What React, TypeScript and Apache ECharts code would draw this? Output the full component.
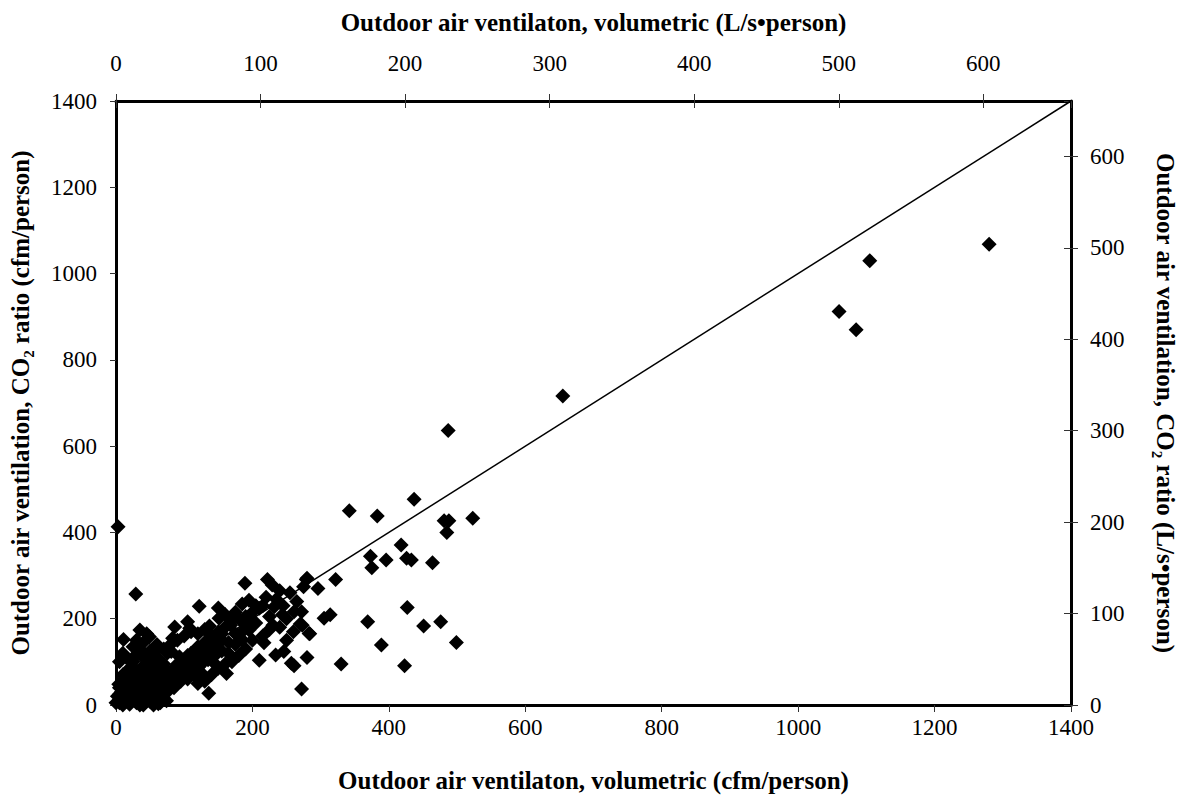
import React, { useEffect, useRef } from "react";
import * as echarts from "echarts";

// Axis ranges (cfm/person) and unit conversion to L/s per person
const cfmMin = 0;
const cfmMax = 1400;
const cfmStep = 200;
const lsPerCfm = 0.4719;
const lsStep = 100;

// Axis titles
const bottomTitle = "Outdoor air ventilaton, volumetric (cfm/person)";
const topTitle = "Outdoor air ventilaton, volumetric (L/s\u2022person)";
const leftTitle = "Outdoor air ventilation, CO\u2082 ratio (cfm/person)";
const rightTitle = "Outdoor air ventilation, CO\u2082 ratio (L/s\u2022person)";

// 1:1 reference line
const oneToOne: [number, number][] = [
  [0, 0],
  [1400, 1400],
];

// [volumetric cfm/person, CO2 ratio cfm/person]
const highPoints: [number, number][] = [
  [1280, 1068], [1105, 1030], [1060, 912], [1085, 870], [655, 716], [487, 636],
];

const midPoints: [number, number][] = [
  [342, 450], [383, 438], [437, 477], [481, 427], [488, 427], [485, 400], [523, 433],
  [418, 371], [373, 345], [396, 336], [375, 318], [426, 340], [433, 336], [464, 330],
  [369, 193], [427, 226], [451, 183], [476, 193], [389, 139], [499, 145], [330, 95],
  [423, 91], [272, 37], [322, 291], [314, 209], [305, 201],
];

const lowPoints: [number, number][] = [
  [280, 294], [275, 274], [296, 270], [279, 291], [261, 216], [272, 216], [270, 188],
  [284, 165], [280, 110], [261, 91], [189, 282], [222, 291], [229, 278], [185, 234],
  [195, 243], [210, 224], [232, 228], [244, 209], [273, 185], [283, 166], [217, 144],
  [234, 116], [246, 124], [257, 97], [210, 104], [195, 174], [185, 151], [178, 162],
  [168, 185], [162, 73], [136, 27],
  [3, 413], [29, 257], [122, 229], [105, 193], [151, 201], [137, 183], [108, 178],
  [86, 181], [83, 155], [11, 152], [35, 174], [49, 158], [39, 143], [59, 127], [29, 116],
  [44, 112], [81, 124], [93, 112], [112, 112], [127, 120], [100, 85], [122, 89],
  [142, 100], [151, 131],
];

const clusterPoints: [number, number][] = [
  [0, 5], [2, 20], [4, 48], [6, 12], [8, 30], [10, 0], [12, 40], [14, 8], [16, 55],
  [18, 22], [20, 2], [22, 35], [24, 15], [26, 60], [28, 45], [30, 5], [32, 28], [34, 70],
  [36, 12], [38, 50], [40, 0], [42, 38], [44, 80], [46, 20], [48, 62], [50, 8], [52, 45],
  [54, 30], [56, 88], [58, 14], [60, 55], [62, 3], [64, 70], [66, 25], [68, 42], [70, 95],
  [72, 60], [74, 10], [76, 78], [78, 35], [80, 50],
  [85, 70], [90, 95], [95, 80], [100, 105], [105, 90], [110, 120], [115, 100], [120, 135],
  [125, 110], [130, 145], [135, 125], [140, 160], [145, 140], [150, 170], [155, 150],
  [160, 180], [165, 145], [170, 195], [175, 165], [180, 200], [190, 185], [200, 215],
  [205, 190], [215, 230], [225, 205], [235, 245], [245, 230], [255, 260], [265, 240],
  [75, 120], [65, 90], [55, 105], [45, 95], [85, 40], [95, 55], [105, 60], [115, 70],
  [125, 75], [60, 140], [50, 125], [40, 110], [20, 85],
  [10, 70], [5, 25], [35, 130], [25, 100], [15, 60], [70, 15], [62, 28],
  [5, 40], [15, 30], [25, 50], [35, 40], [45, 55], [55, 65], [65, 50], [75, 65],
  [85, 85], [95, 100], [105, 115], [115, 125], [125, 130], [135, 140], [145, 155],
  [155, 165], [20, 70], [30, 80], [40, 90], [50, 100], [60, 110], [70, 130], [80, 140],
  [90, 150], [100, 160], [110, 170], [120, 165], [130, 175], [15, 110], [25, 135],
  [45, 165], [30, 150], [5, 100], [10, 120], [60, 40], [70, 35], [50, 20], [30, 20],
  [20, 40], [40, 25], [65, 5], [55, 0], [45, 10], [35, 0], [25, 25], [15, 15], [5, 5],
  [85, 55], [95, 70], [105, 80], [115, 95], [125, 95], [135, 105], [145, 115],
  [155, 125], [165, 120], [175, 140], [185, 170], [175, 215], [160, 210], [150, 225],
  [190, 205], [200, 195], [205, 230], [220, 250], [240, 265], [250, 200], [230, 185],
  [215, 160], [225, 175], [240, 180], [250, 150], [260, 170], [200, 150], [190, 130],
  [180, 115], [170, 100], [160, 95], [150, 85], [140, 70], [130, 55], [120, 50], [75, 45],
];

const FONT = "Liberation Serif, Times New Roman, serif";

export default function App() {
  const ref = useRef<HTMLDivElement>(null);

  useEffect(() => {
    if (!ref.current) return;
    const chart = echarts.init(ref.current, undefined, { renderer: "svg" });
    const lsMax = cfmMax * lsPerCfm;
    const labelStyle = { fontFamily: FONT, fontSize: 23, color: "#000" };
    const nameStyle = { fontFamily: FONT, fontSize: 25, fontWeight: "bold" as const, color: "#000" };
    const lineStyle = { color: "#000", width: 3 };
    const tickStyle = { color: "#333", width: 1 };
    const plain = (v: number) => String(Math.round(v));
    const hundredOnly = (v: number) =>
      Math.abs(v - Math.round(v / 100) * 100) < 1e-6 ? String(Math.round(v)) : "";

    chart.setOption({
      animation: false,
      backgroundColor: "#fff",
      grid: { left: 113, top: 101, width: 960, height: 604, containLabel: false },
      xAxis: [
        {
          type: "value", position: "bottom", min: cfmMin, max: cfmMax, interval: cfmStep,
          axisLine: { show: true, onZero: false, lineStyle },
          axisTick: { show: true, inside: false, length: 7, lineStyle: tickStyle },
          axisLabel: { ...labelStyle, margin: 11, formatter: plain },
          splitLine: { show: false },
          name: bottomTitle, nameLocation: "middle", nameGap: 63, nameTextStyle: nameStyle,
        },
        {
          type: "value", position: "top", min: 0, max: lsMax, interval: lsStep,
          axisLine: { show: true, onZero: false, lineStyle },
          axisTick: { show: true, inside: false, length: 7, lineStyle: tickStyle },
          axisLabel: { ...labelStyle, margin: 26, formatter: hundredOnly, showMaxLabel: false },
          splitLine: { show: false },
          name: topTitle, nameLocation: "middle", nameGap: 66, nameTextStyle: nameStyle,
        },
        {
          type: "value", position: "top", min: 0, max: lsMax, interval: lsStep,
          axisLine: { show: false, onZero: false },
          axisTick: { show: true, inside: true, length: 7, lineStyle: tickStyle },
          axisLabel: { show: false },
          splitLine: { show: false },
        },
      ],
      yAxis: [
        {
          type: "value", position: "left", min: cfmMin, max: cfmMax, interval: cfmStep,
          axisLine: { show: true, onZero: false, lineStyle },
          axisTick: { show: true, inside: false, length: 6, lineStyle: tickStyle },
          axisLabel: { ...labelStyle, margin: 19, formatter: plain },
          splitLine: { show: false },
          name: leftTitle, nameLocation: "middle", nameGap: 83, nameTextStyle: nameStyle,
        },
        {
          type: "value", position: "right", min: 0, max: lsMax, interval: lsStep,
          axisLine: { show: true, onZero: false, lineStyle },
          axisTick: { show: true, inside: false, length: 7, lineStyle: tickStyle },
          axisLabel: { ...labelStyle, margin: 19, formatter: hundredOnly, showMaxLabel: false },
          splitLine: { show: false },
          name: rightTitle, nameLocation: "middle", nameGap: 82, nameRotate: -90, nameTextStyle: nameStyle,
        },
        {
          type: "value", position: "right", min: 0, max: lsMax, interval: lsStep,
          axisLine: { show: false, onZero: false },
          axisTick: { show: true, inside: true, length: 7, lineStyle: tickStyle },
          axisLabel: { show: false },
          splitLine: { show: false },
        },
      ],
      series: [
        {
          type: "line", xAxisIndex: 0, yAxisIndex: 0, data: oneToOne,
          showSymbol: false, symbol: "none", lineStyle: { color: "#000", width: 1.5 },
          silent: true, z: 2,
        },
        {
          type: "scatter", xAxisIndex: 0, yAxisIndex: 0,
          data: [...highPoints, ...midPoints, ...lowPoints, ...clusterPoints],
          symbol: "diamond", symbolSize: 15,
          itemStyle: { color: "#000", opacity: 1 }, z: 3,
        },
      ],
    });
    return () => chart.dispose();
  }, []);

  return (
    <div
      ref={ref}
      style={{ position: "fixed", left: 0, top: 0, width: 1186, height: 800, background: "#fff" }}
    />
  );
}
